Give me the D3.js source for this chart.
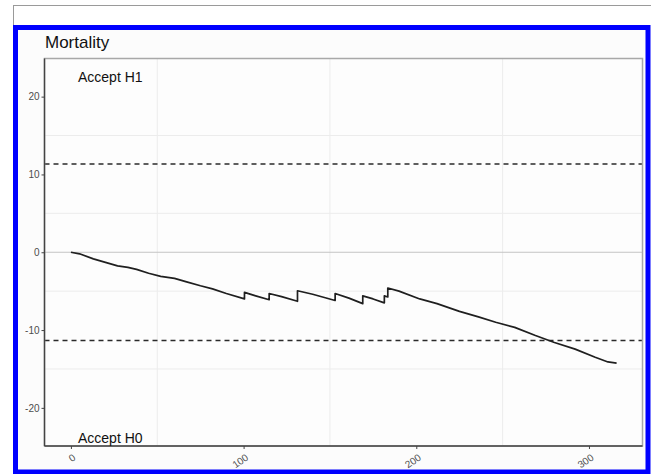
<!DOCTYPE html>
<html>
<head>
<meta charset="utf-8">
<script src="https://cdn.jsdelivr.net/npm/d3@7"></script>
<style>
  html, body { margin: 0; padding: 0; background: #ffffff; }
  svg { display: block; font-family: "Liberation Sans", Arial, sans-serif; }
</style>
</head>
<body>
<svg id="chart" width="651" height="474"></svg>
<script>
// CUSUM trace: patient number vs cumulative statistic (vertical steps are events)
const patientIndex = [0, 5, 13, 20, 27, 33, 38, 45, 52, 60, 67, 75, 82, 90, 100.5,
  100.5, 107, 114.8,
  114.8, 122, 131.2,
  131.2, 140, 153,
  153, 161, 169,
  169, 175, 181.5,
  181.5, 183.5,
  183.5, 190, 202, 212, 225, 236, 246, 257, 269, 280, 292, 303.6, 311, 316];
const cusumValue = [0, -0.2, -0.85, -1.3, -1.75, -1.95, -2.2, -2.7, -3.1, -3.35, -3.8, -4.3, -4.7, -5.3, -6.0,
  -5.15, -5.6, -6.1,
  -5.3, -5.7, -6.3,
  -4.95, -5.4, -6.2,
  -5.3, -5.9, -6.6,
  -5.6, -6.0, -6.5,
  -5.6, -5.75,
  -4.6, -5.0, -6.0, -6.6, -7.6, -8.3, -9.0, -9.65, -10.7, -11.6, -12.45, -13.5, -14.1, -14.25];

const xTicks = [0, 100, 200, 300];
const yTicks = [-20, -10, 0, 10, 20];
const xMinorGrid = [50, 150, 250];
const yMinorGrid = [-15, -5, 5, 15];
const controlLimits = [11.35, -11.35];
const regionLabels = ["Accept H1", "Accept H0"];
const chartTitle = "Mortality";

const svg = d3.select("#chart");

// outer frame
svg.append("line").attr("x1", 13).attr("x2", 651).attr("y1", 5.5).attr("y2", 5.5)
  .attr("stroke", "#9a9a9a").attr("stroke-width", 1);
svg.append("line").attr("x1", 13.5).attr("x2", 13.5).attr("y1", 5).attr("y2", 26)
  .attr("stroke", "#9a9a9a").attr("stroke-width", 1);
svg.append("rect").attr("x", 15.5).attr("y", 27.5).attr("width", 632.5).attr("height", 444.5)
  .attr("fill", "#fcfcfc").attr("stroke", "#0000ff").attr("stroke-width", 5);

const panel = { left: 44.5, top: 58.5, right: 642.5, bottom: 446 };

const x = d3.scaleLinear().domain([-15.3, 331]).range([panel.left, panel.right]);
const y = d3.scaleLinear().domain([-24.9, 24.9]).range([panel.bottom, panel.top]);

// panel background
svg.append("rect").attr("x", panel.left).attr("y", panel.top)
  .attr("width", panel.right - panel.left).attr("height", panel.bottom - panel.top)
  .attr("fill", "#fdfdfd");

// grid
const grid = svg.append("g");
grid.selectAll(".gx").data(xMinorGrid).join("line")
  .attr("x1", d => x(d)).attr("x2", d => x(d))
  .attr("y1", panel.top).attr("y2", panel.bottom)
  .attr("stroke", "#ececec").attr("stroke-width", 1);
grid.selectAll(".gy").data(yMinorGrid).join("line")
  .attr("x1", panel.left).attr("x2", panel.right)
  .attr("y1", d => y(d)).attr("y2", d => y(d))
  .attr("stroke", "#ececec").attr("stroke-width", 1);
grid.append("line")
  .attr("x1", panel.left).attr("x2", panel.right)
  .attr("y1", y(0)).attr("y2", y(0))
  .attr("stroke", "#c4c4c4").attr("stroke-width", 1);

// control limits
svg.selectAll(".limit").data(controlLimits).join("line")
  .attr("x1", panel.left).attr("x2", panel.right)
  .attr("y1", d => y(d)).attr("y2", d => y(d))
  .attr("stroke", "#2a2a2a").attr("stroke-width", 1.4)
  .attr("stroke-dasharray", "5,4");

// CUSUM path
const pts = patientIndex.map((d, i) => [d, cusumValue[i]]);
svg.append("path")
  .datum(pts)
  .attr("fill", "none")
  .attr("stroke", "#1f1f1f")
  .attr("stroke-width", 1.7)
  .attr("stroke-linejoin", "round")
  .attr("d", d3.line().x(d => x(d[0])).y(d => y(d[1])));

// panel border
svg.append("rect").attr("x", panel.left).attr("y", panel.top)
  .attr("width", panel.right - panel.left).attr("height", panel.bottom - panel.top)
  .attr("fill", "none").attr("stroke", "#a8a8a8").attr("stroke-width", 1.5);

// axes (plain hyphen for negative labels)
const plainFormat = d => String(d);
const yAxis = svg.append("g").attr("transform", `translate(${panel.left},0)`)
  .call(d3.axisLeft(y).tickValues(yTicks).tickSize(3).tickPadding(2).tickFormat(plainFormat));
const xAxis = svg.append("g").attr("transform", `translate(0,${panel.bottom})`)
  .call(d3.axisBottom(x).tickValues(xTicks).tickSize(3).tickFormat(plainFormat));
[xAxis, yAxis].forEach(ax => {
  ax.select(".domain").attr("stroke", "#444").attr("stroke-width", 1.4);
  ax.selectAll(".tick line").attr("stroke", "#444");
  ax.selectAll(".tick text").attr("fill", "#4d4d4d").style("font-size", "10px")
    .style("font-family", "'Liberation Sans', Arial, sans-serif");
});
yAxis.select(".domain").attr("d", `M0,${panel.top}V${panel.bottom}`);
xAxis.select(".domain").attr("d", `M${panel.left},0H${panel.right}`);
xAxis.selectAll(".tick text")
  .attr("text-anchor", "end")
  .attr("dy", null)
  .attr("y", 0)
  .attr("transform", "translate(5,13) rotate(-35)");

// labels
svg.append("text").attr("x", 45).attr("y", 47.5).text(chartTitle)
  .attr("fill", "#111").style("font-size", "17px");
svg.append("text").attr("x", 78).attr("y", 81.5).text(regionLabels[0])
  .attr("fill", "#111").style("font-size", "14px");
svg.append("text").attr("x", 78).attr("y", 442.5).text(regionLabels[1])
  .attr("fill", "#111").style("font-size", "14px");
</script>
</body>
</html>
